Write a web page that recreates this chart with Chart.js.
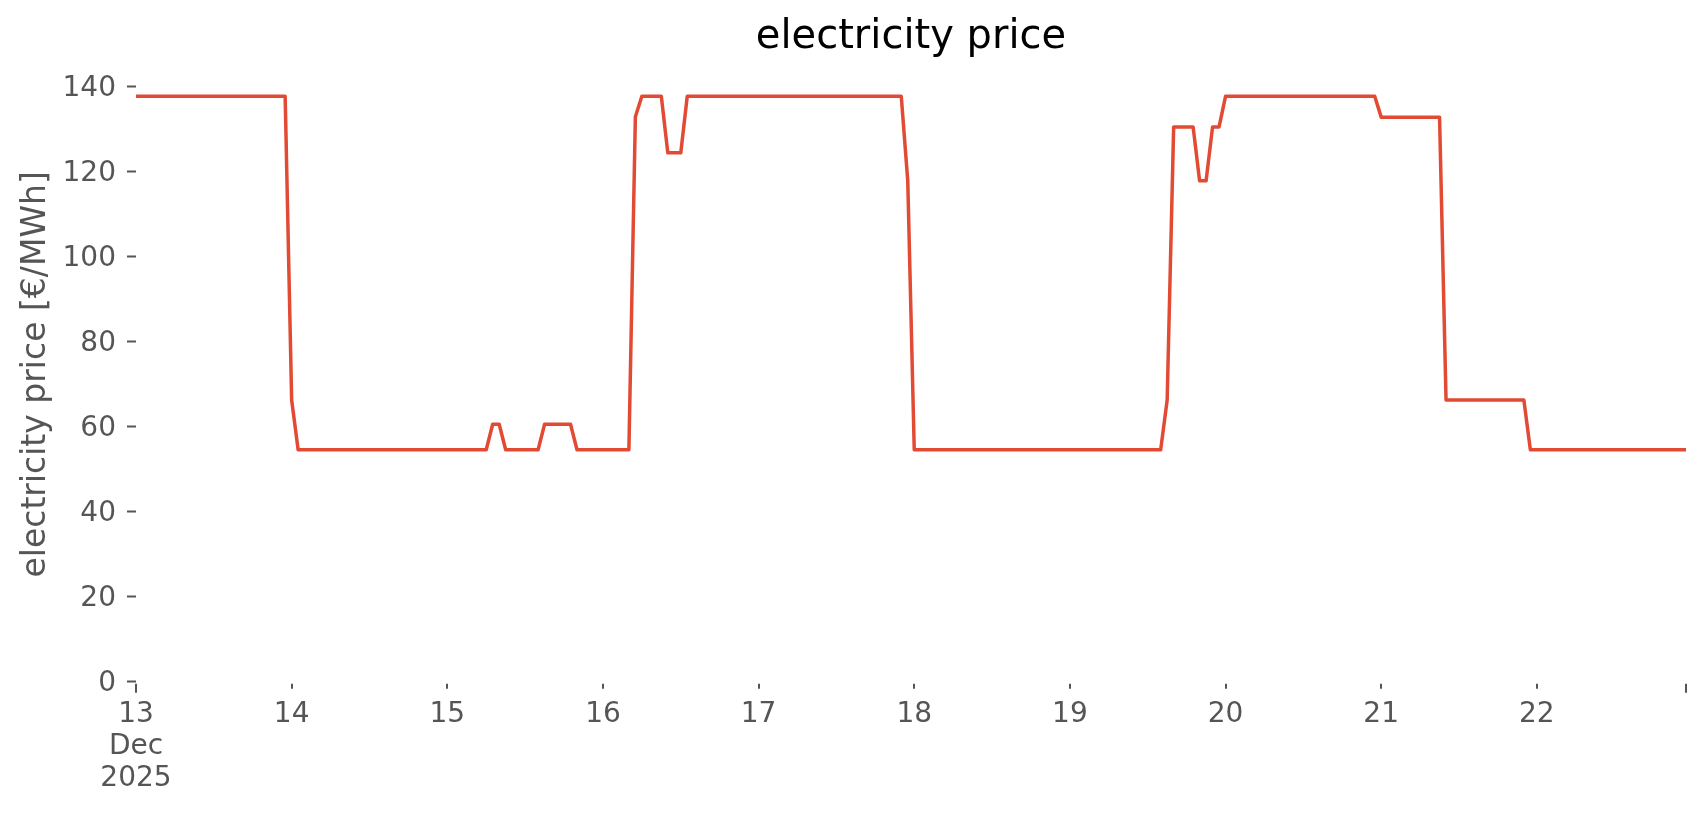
<!DOCTYPE html>
<html>
<head>
<meta charset="utf-8">
<title>electricity price</title>
<script src="https://cdn.jsdelivr.net/npm/chart.js@4.4.1/dist/chart.umd.min.js"></script>
<style>
    body { margin: 0; background: #ffffff; }
    #wrap { width: 1706px; height: 815px; position: relative; }
</style>
</head>
<body>
<div id="wrap"><canvas id="priceChart"></canvas></div>
<script>
// hourly price, 13 Dec 2025 00:00 .. 22 Dec 2025 23:00 (one row per day)
const priceByHour = [
    137.8, 137.8, 137.8, 137.8, 137.8, 137.8, 137.8, 137.8, 137.8, 137.8, 137.8, 137.8, 137.8, 137.8, 137.8, 137.8, 137.8, 137.8, 137.8, 137.8, 137.8, 137.8, 137.8, 137.8,
    66.3, 54.6, 54.6, 54.6, 54.6, 54.6, 54.6, 54.6, 54.6, 54.6, 54.6, 54.6, 54.6, 54.6, 54.6, 54.6, 54.6, 54.6, 54.6, 54.6, 54.6, 54.6, 54.6, 54.6,
    54.6, 54.6, 54.6, 54.6, 54.6, 54.6, 54.6, 60.6, 60.6, 54.6, 54.6, 54.6, 54.6, 54.6, 54.6, 60.6, 60.6, 60.6, 60.6, 60.6, 54.6, 54.6, 54.6, 54.6,
    54.6, 54.6, 54.6, 54.6, 54.6, 133.0, 137.8, 137.8, 137.8, 137.8, 124.5, 124.5, 124.5, 137.8, 137.8, 137.8, 137.8, 137.8, 137.8, 137.8, 137.8, 137.8, 137.8, 137.8,
    137.8, 137.8, 137.8, 137.8, 137.8, 137.8, 137.8, 137.8, 137.8, 137.8, 137.8, 137.8, 137.8, 137.8, 137.8, 137.8, 137.8, 137.8, 137.8, 137.8, 137.8, 137.8, 137.8, 117.9,
    54.6, 54.6, 54.6, 54.6, 54.6, 54.6, 54.6, 54.6, 54.6, 54.6, 54.6, 54.6, 54.6, 54.6, 54.6, 54.6, 54.6, 54.6, 54.6, 54.6, 54.6, 54.6, 54.6, 54.6,
    54.6, 54.6, 54.6, 54.6, 54.6, 54.6, 54.6, 54.6, 54.6, 54.6, 54.6, 54.6, 54.6, 54.6, 54.6, 66.3, 130.6, 130.6, 130.6, 130.6, 117.9, 117.9, 130.6, 130.6,
    137.8, 137.8, 137.8, 137.8, 137.8, 137.8, 137.8, 137.8, 137.8, 137.8, 137.8, 137.8, 137.8, 137.8, 137.8, 137.8, 137.8, 137.8, 137.8, 137.8, 137.8, 137.8, 137.8, 137.8,
    132.9, 132.9, 132.9, 132.9, 132.9, 132.9, 132.9, 132.9, 132.9, 132.9, 66.3, 66.3, 66.3, 66.3, 66.3, 66.3, 66.3, 66.3, 66.3, 66.3, 66.3, 66.3, 66.3, 54.6,
    54.6, 54.6, 54.6, 54.6, 54.6, 54.6, 54.6, 54.6, 54.6, 54.6, 54.6, 54.6, 54.6, 54.6, 54.6, 54.6, 54.6, 54.6, 54.6, 54.6, 54.6, 54.6, 54.6, 54.6
];

// x ticks in hours from 13 Dec 00:00, last one is the end of the data
const xTickHours = [0, 24, 48, 72, 96, 120, 144, 168, 192, 216, 239];
const xTickLabels = [['13', 'Dec', '2025'], '14', '15', '16', '17', '18', '19', '20', '21', '22', ''];
const yTicks = [0, 20, 40, 60, 80, 100, 120, 140];
const chartTitle = 'electricity price';

const hourIndex = priceByHour.map((_, i) => i);

const textGray = '#555555';
const lineRed = '#E24A33';
const fontFamily = "'DejaVu Sans', sans-serif";

Chart.defaults.font.family = fontFamily;
Chart.defaults.color = textGray;

// pandas style ticks on the date axis: long at the ends, short for the days
const xTickMarks = {
    id: 'xTickMarks',
    afterDraw(chart) {
        const ctx = chart.ctx;
        const xs = chart.scales.x;
        const y0 = chart.chartArea.bottom;
        ctx.save();
        ctx.strokeStyle = textGray;
        ctx.lineWidth = 2;
        xs.ticks.forEach((t, i) => {
            const px = Math.round(xs.getPixelForValue(t.value));
            const long = i === 0 || i === xs.ticks.length - 1;
            ctx.beginPath();
            ctx.moveTo(px, y0 + 2);
            ctx.lineTo(px, y0 + (long ? 11 : 7));
            ctx.stroke();
        });
        ctx.restore();
    }
};

// title centred over the axes (matplotlib style), not over the canvas
const axesTitle = {
    id: 'axesTitle',
    afterDraw(chart) {
        const ctx = chart.ctx;
        const area = chart.chartArea;
        ctx.save();
        ctx.fillStyle = '#000000';
        ctx.font = '40px ' + fontFamily;
        ctx.textAlign = 'center';
        ctx.textBaseline = 'middle';
        ctx.fillText(chartTitle, (area.left + area.right) / 2, 38);
        ctx.restore();
    }
};

const ctx = document.getElementById('priceChart').getContext('2d');
new Chart(ctx, {
    type: 'line',
    data: {
        labels: hourIndex,
        datasets: [{
            label: chartTitle,
            data: priceByHour,
            borderColor: lineRed,
            borderWidth: 3.5,
            borderJoinStyle: 'round',
            pointRadius: 0,
            tension: 0,
            fill: false
        }]
    },
    options: {
        responsive: true,
        maintainAspectRatio: false,
        animation: false,
        layout: { padding: { left: 0, right: 20, top: 67, bottom: 0 } },
        plugins: {
            legend: { display: false },
            tooltip: { enabled: false },
            title: { display: false }
        },
        scales: {
            x: {
                type: 'linear',
                min: 0,
                max: 239,
                border: { display: false },
                grid: { display: false, drawTicks: false, tickLength: 0 },
                afterBuildTicks: (scale) => {
                    scale.ticks = xTickHours.map(v => ({ value: v }));
                },
                afterFit: (scale) => { scale.height = 133.3; },
                ticks: {
                    autoSkip: false,
                    maxRotation: 0,
                    padding: 17,
                    font: { size: 28, lineHeight: 1.15 },
                    color: textGray,
                    callback: (value, index) => xTickLabels[index]
                }
            },
            y: {
                min: 0,
                max: 144.7,
                border: { display: false },
                grid: {
                    display: true,
                    drawOnChartArea: false,
                    drawTicks: true,
                    tickLength: 9,
                    tickWidth: 2,
                    tickColor: textGray
                },
                afterBuildTicks: (scale) => {
                    scale.ticks = yTicks.map(v => ({ value: v }));
                },
                afterFit: (scale) => { scale.width = 136; },
                ticks: {
                    padding: 11,
                    labelOffset: 2,
                    font: { size: 28 },
                    color: textGray
                },
                title: {
                    display: true,
                    text: 'electricity price [€/MWh]',
                    color: textGray,
                    font: { size: 33 },
                    padding: { top: 17, bottom: 0 }
                }
            }
        }
    },
    plugins: [xTickMarks, axesTitle]
});
</script>
</body>
</html>
